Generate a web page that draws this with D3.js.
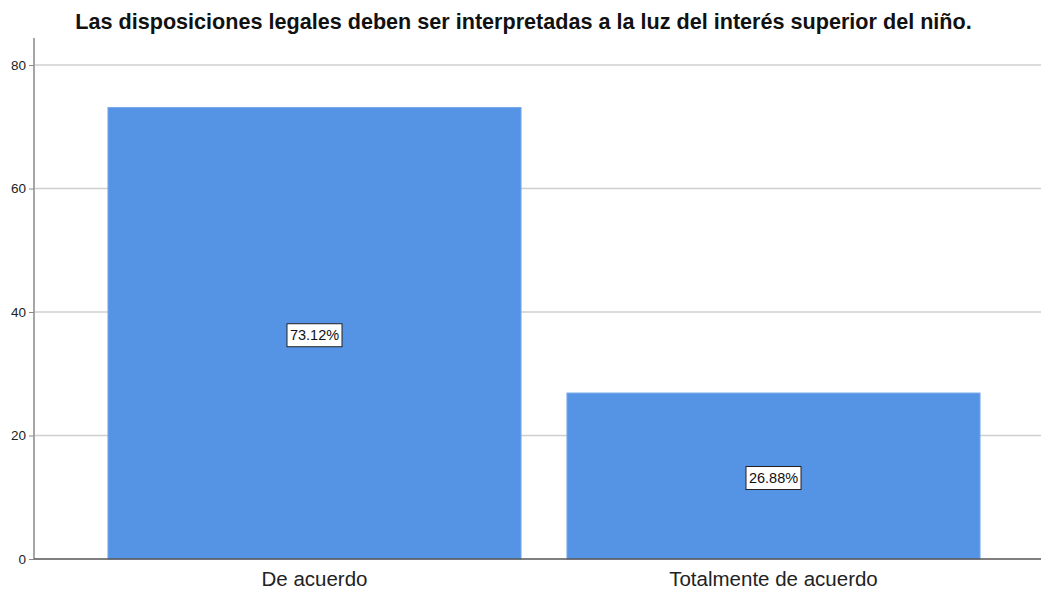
<!DOCTYPE html>
<html><head><meta charset="utf-8">
<script src="https://cdn.jsdelivr.net/npm/d3@7"></script>
<style>body{margin:0;background:#fff}svg{display:block}text{font-family:"Liberation Sans",Arial,sans-serif}</style>
</head><body>
<svg id="c" width="1043" height="589"></svg>
<script>
const categories = ["De acuerdo", "Totalmente de acuerdo"];
const values = [73.12, 26.88];
const labels = ["73.12%", "26.88%"];
const yTicks = [0, 20, 40, 60, 80];
const title = "Las disposiciones legales deben ser interpretadas a la luz del interés superior del niño.";

const svg = d3.select("#c");
const x = d3.scaleBand().domain(categories).range([85, 1003]).paddingInner(0.1).paddingOuter(0.05);
const y = d3.scaleLinear().domain([0, 80]).range([559, 65]);

// gridlines
svg.append("g").selectAll("line").data(yTicks.filter(d => d > 0)).join("line")
  .attr("x1", 35).attr("x2", 1041).attr("y1", d => y(d)).attr("y2", d => y(d))
  .attr("stroke", "#cfcfcf").attr("stroke-width", 1.5);

// bars
svg.append("g").selectAll("rect").data(values).join("rect")
  .attr("x", (d, i) => x(categories[i])).attr("width", x.bandwidth())
  .attr("y", d => y(d)).attr("height", d => y(0) - y(d))
  .attr("fill", "#5594e5").attr("stroke", "#7aabea").attr("stroke-width", 1);

// y axis
const ya = svg.append("g").attr("transform", "translate(34,0)")
  .call(d3.axisLeft(y).tickValues(yTicks).tickSize(5).tickPadding(3));
ya.select(".domain").remove();
ya.selectAll("line").attr("stroke", "#888");
ya.selectAll("text").attr("font-size", 13.5).attr("fill", "#222").attr("font-family", "Liberation Sans, Arial, sans-serif");
svg.append("line").attr("x1", 34).attr("x2", 34).attr("y1", 38).attr("y2", 559).attr("stroke", "#888").attr("stroke-width", 1.5);
svg.append("line").attr("x1", 34).attr("x2", 1041).attr("y1", 559).attr("y2", 559).attr("stroke", "#555").attr("stroke-width", 1.5);

// x labels
svg.append("g").selectAll("text").data(categories).join("text")
  .attr("x", d => x(d) + x.bandwidth() / 2).attr("y", 586)
  .attr("text-anchor", "middle").attr("font-size", 20.5).attr("fill", "#222").text(d => d);

// value labels
const lg = svg.append("g").selectAll("g").data(values).join("g")
  .attr("transform", (d, i) => `translate(${x(categories[i]) + x.bandwidth() / 2},${(y(d) + y(0)) / 2 + 2})`);
lg.append("rect").attr("x", -27.5).attr("y", -11.5).attr("width", 55).attr("height", 23)
  .attr("fill", "#fff").attr("stroke", "#222").attr("stroke-width", 1);
lg.append("text").attr("text-anchor", "middle").attr("dy", "0.36em").attr("font-size", 14.5).attr("fill", "#111")
  .text((d, i) => labels[i]);

// title
svg.append("text").attr("x", 523.5).attr("y", 29).attr("text-anchor", "middle")
  .attr("font-size", 21.6).attr("font-weight", "bold").attr("fill", "#111").text(title);
</script>
</body></html>
